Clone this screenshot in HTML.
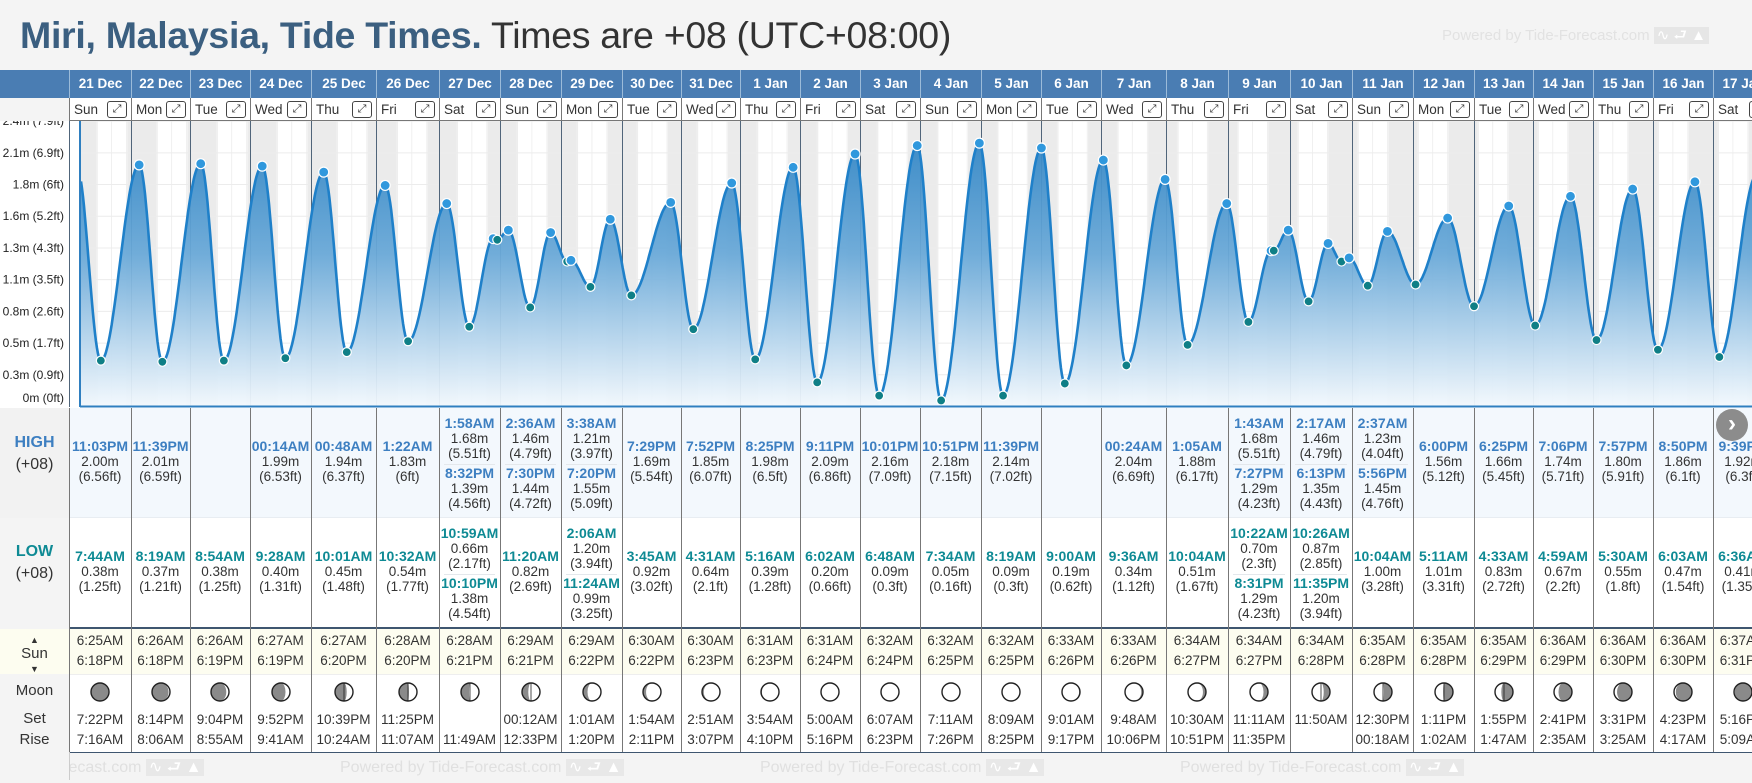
<!DOCTYPE html>
<html><head><meta charset="utf-8">
<style>
*{box-sizing:border-box;margin:0;padding:0}
body{width:1752px;height:780px;overflow:hidden;background:#f4f4f4;font-family:"Liberation Sans",Arial,sans-serif;position:relative;color:#333}
.a{position:absolute}
.c{position:absolute;text-align:center;white-space:nowrap}
.t{font-weight:bold;font-size:14px;line-height:15px}
.v{font-size:13.5px;line-height:15px;color:#333}
</style></head>
<body>
<div class="a" style="left:20px;top:13px;font-size:37.5px;white-space:nowrap;line-height:44px;letter-spacing:-0.3px"><b style="color:#3b5f80">Miri, Malaysia, Tide Times.</b><span style="color:#333"> Times are +08 (UTC+08:00)</span></div>
<div class="a" style="left:1442px;top:25px;font-size:15px;color:#e2e2e2;white-space:nowrap">Powered by Tide-Forecast.com <span style="background:#e6e6e6;color:#fff;padding:0 3px">∿ ⮐ ▲</span></div>
<div id="root"></div>
<svg id="chart" class="a" style="left:0;top:121px" width="1752" height="287"></svg>
<script>
const colEdges=[69,131,190,250,311,376,439,500,561,622,681,740,800,860,920,981,1041,1101,1166,1228,1290,1352,1413,1474,1533,1593,1653,1713,1773];
const dates=['21 Dec','22 Dec','23 Dec','24 Dec','25 Dec','26 Dec','27 Dec','28 Dec','29 Dec','30 Dec','31 Dec','1 Jan','2 Jan','3 Jan','4 Jan','5 Jan','6 Jan','7 Jan','8 Jan','9 Jan','10 Jan','11 Jan','12 Jan','13 Jan','14 Jan','15 Jan','16 Jan','17 Jan'];
const dows=['Sun','Mon','Tue','Wed','Thu','Fri','Sat','Sun','Mon','Tue','Wed','Thu','Fri','Sat','Sun','Mon','Tue','Wed','Thu','Fri','Sat','Sun','Mon','Tue','Wed','Thu','Fri','Sat'];
const highs=[
[['11:03PM','2.00m','(6.56ft)']],[['11:39PM','2.01m','(6.59ft)']],[],[['00:14AM','1.99m','(6.53ft)']],[['00:48AM','1.94m','(6.37ft)']],[['1:22AM','1.83m','(6ft)']],
[['1:58AM','1.68m','(5.51ft)'],['8:32PM','1.39m','(4.56ft)']],[['2:36AM','1.46m','(4.79ft)'],['7:30PM','1.44m','(4.72ft)']],[['3:38AM','1.21m','(3.97ft)'],['7:20PM','1.55m','(5.09ft)']],
[['7:29PM','1.69m','(5.54ft)']],[['7:52PM','1.85m','(6.07ft)']],[['8:25PM','1.98m','(6.5ft)']],[['9:11PM','2.09m','(6.86ft)']],[['10:01PM','2.16m','(7.09ft)']],[['10:51PM','2.18m','(7.15ft)']],[['11:39PM','2.14m','(7.02ft)']],[],
[['00:24AM','2.04m','(6.69ft)']],[['1:05AM','1.88m','(6.17ft)']],[['1:43AM','1.68m','(5.51ft)'],['7:27PM','1.29m','(4.23ft)']],[['2:17AM','1.46m','(4.79ft)'],['6:13PM','1.35m','(4.43ft)']],[['2:37AM','1.23m','(4.04ft)'],['5:56PM','1.45m','(4.76ft)']],
[['6:00PM','1.56m','(5.12ft)']],[['6:25PM','1.66m','(5.45ft)']],[['7:06PM','1.74m','(5.71ft)']],[['7:57PM','1.80m','(5.91ft)']],[['8:50PM','1.86m','(6.1ft)']],[['9:39PM','1.92m','(6.3ft)']]];
const lows=[
[['7:44AM','0.38m','(1.25ft)']],[['8:19AM','0.37m','(1.21ft)']],[['8:54AM','0.38m','(1.25ft)']],[['9:28AM','0.40m','(1.31ft)']],[['10:01AM','0.45m','(1.48ft)']],[['10:32AM','0.54m','(1.77ft)']],
[['10:59AM','0.66m','(2.17ft)'],['10:10PM','1.38m','(4.54ft)']],[['11:20AM','0.82m','(2.69ft)']],[['2:06AM','1.20m','(3.94ft)'],['11:24AM','0.99m','(3.25ft)']],
[['3:45AM','0.92m','(3.02ft)']],[['4:31AM','0.64m','(2.1ft)']],[['5:16AM','0.39m','(1.28ft)']],[['6:02AM','0.20m','(0.66ft)']],[['6:48AM','0.09m','(0.3ft)']],[['7:34AM','0.05m','(0.16ft)']],[['8:19AM','0.09m','(0.3ft)']],[['9:00AM','0.19m','(0.62ft)']],
[['9:36AM','0.34m','(1.12ft)']],[['10:04AM','0.51m','(1.67ft)']],[['10:22AM','0.70m','(2.3ft)'],['8:31PM','1.29m','(4.23ft)']],[['10:26AM','0.87m','(2.85ft)'],['11:35PM','1.20m','(3.94ft)']],[['10:04AM','1.00m','(3.28ft)']],
[['5:11AM','1.01m','(3.31ft)']],[['4:33AM','0.83m','(2.72ft)']],[['4:59AM','0.67m','(2.2ft)']],[['5:30AM','0.55m','(1.8ft)']],[['6:03AM','0.47m','(1.54ft)']],[['6:36AM','0.41m','(1.35ft)']]];
const sunrise=['6:25AM','6:26AM','6:26AM','6:27AM','6:27AM','6:28AM','6:28AM','6:29AM','6:29AM','6:30AM','6:30AM','6:31AM','6:31AM','6:32AM','6:32AM','6:32AM','6:33AM','6:33AM','6:34AM','6:34AM','6:34AM','6:35AM','6:35AM','6:35AM','6:36AM','6:36AM','6:36AM','6:37AM'];
const sunset=['6:18PM','6:18PM','6:19PM','6:19PM','6:20PM','6:20PM','6:21PM','6:21PM','6:22PM','6:22PM','6:23PM','6:23PM','6:24PM','6:24PM','6:25PM','6:25PM','6:26PM','6:26PM','6:27PM','6:27PM','6:28PM','6:28PM','6:28PM','6:29PM','6:29PM','6:30PM','6:30PM','6:31PM'];
const moonSet=['7:22PM','8:14PM','9:04PM','9:52PM','10:39PM','11:25PM','','00:12AM','1:01AM','1:54AM','2:51AM','3:54AM','5:00AM','6:07AM','7:11AM','8:09AM','9:01AM','9:48AM','10:30AM','11:11AM','11:50AM','12:30PM','1:11PM','1:55PM','2:41PM','3:31PM','4:23PM','5:16PM'];
const moonRise=['7:16AM','8:06AM','8:55AM','9:41AM','10:24AM','11:07AM','11:49AM','12:33PM','1:20PM','2:11PM','3:07PM','4:10PM','5:16PM','6:23PM','7:26PM','8:25PM','9:17PM','10:06PM','10:51PM','11:35PM','','00:18AM','1:02AM','1:47AM','2:35AM','3:25AM','4:17AM','5:09AM'];
const moonIllum=[0.03,0.08,0.15,0.25,0.35,0.45,0.55,0.65,0.75,0.83,0.9,0.95,0.98,1,1,0.98,0.95,0.9,0.83,0.75,0.65,0.55,0.45,0.35,0.25,0.17,0.1,0.04];
const moonWaxing=[1,1,1,1,1,1,1,1,1,1,1,1,1,1,1,0,0,0,0,0,0,0,0,0,0,0,0,0];
const tickVals=[0,0.2625,0.525,0.7875,1.05,1.3125,1.575,1.8375,2.1,2.3625];
const tickLabels=['0m (0ft)','0.3m (0.9ft)','0.5m (1.7ft)','0.8m (2.6ft)','1.1m (3.5ft)','1.3m (4.3ft)','1.6m (5.2ft)','1.8m (6ft)','2.1m (6.9ft)','2.4m (7.9ft)'];
const preEvent=[-1.8,1.97,'H'];
const postEvent=[27*24+31.2,0.38,'L'];

const root=document.getElementById('root');
function box(css,name,inter,html,cls){const d=document.createElement('div');d.className=cls||'a';d.style.cssText=css;


if(html!==undefined)d.innerHTML=html;root.appendChild(d);return d;}
box('left:0;top:70px;width:1752px;height:28px;background:#4a7db3','date-header-bar',false);
box('left:0;top:98px;width:1752px;height:23px;background:#fff;border-bottom:1px solid #777','day-row',false);
box('left:0;top:121px;width:1752px;height:287px;background:#fff','chart-area',false);
box('left:0;top:408px;width:1752px;height:110px;background:#f3f8fd','high-row',false);
box('left:0;top:518px;width:1752px;height:109px;background:#fff','low-row',false);
box('left:0;top:517px;width:1752px;height:1px;background:#e8edf2','high-low-divider',false);
box('left:0;top:627px;width:1752px;height:2px;background:#3e5670','sun-divider',false);
box('left:0;top:629px;width:1752px;height:45px;background:#fdfdf0','sun-row',false);
box('left:0;top:674px;width:1752px;height:79px;background:#fff;border-top:1px solid #eee','moon-row',false);
box('left:0;top:752px;width:1752px;height:1px;background:#3e5670','moon-bottom-line',false);
box('left:0;top:408px;width:69px;height:344px;background:#f4f4f4','label-column',false);
box('left:0;top:98px;width:69px;height:23px;background:#f4f4f4','label-column-top',false);
box('left:0;top:408px;width:69px;height:110px;background:#f2f2f2','high-label-bg',false);
box('left:0;top:629px;width:69px;height:45px;background:#fdfdf0','sun-label-bg',false);
box('left:0;top:432px;width:69px;font-size:16px;line-height:22px;text-align:center','high-label',false,'<b style="color:#3d7fc1">HIGH</b><br>(+08)');
box('left:0;top:541px;width:69px;font-size:16px;line-height:22px;text-align:center','low-label',false,'<b style="color:#0e8a94">LOW</b><br>(+08)');
box('left:0;top:632px;width:69px;font-size:15px;line-height:14px;text-align:center','sun-label',false,'<span style="font-size:9px">▲</span><br>Sun<br><span style="font-size:9px">▼</span>');
box('left:0;top:682px;width:69px;font-size:15px;text-align:center','moon-label',false,'Moon');
box('left:0;top:710px;width:69px;font-size:15px;text-align:center','moon-set-label',false,'Set');
box('left:0;top:731px;width:69px;font-size:15px;text-align:center','moon-rise-label',false,'Rise');
for(let i=0;i<4;i++){
box('left:'+(-80+i*420)+'px;top:756px;font-size:16px;color:#e0e0e0;white-space:nowrap','footer-watermark',false,'Powered by Tide-Forecast.com <span style="background:#e8e8e8;color:#fff;padding:0 3px">∿ ⮐ ▲</span>');
}
box('left:0;top:752px;width:69px;height:28px;background:#f4f4f4','footer-label-bg',false);
box('left:69px;top:752px;width:1px;height:28px;background:#ccc','footer-left-line',false);

function moonSvg(f,wax){
const r=9, cx=10, cy=10;
const k=r*Math.abs(1-2*f);
let outer, inner;
if(wax){outer=1; inner=f<0.5?0:1;} else {outer=0; inner=f<0.5?1:0;}
const d='M'+cx+' '+(cy-r)+' A'+r+' '+r+' 0 0 '+outer+' '+cx+' '+(cy+r)+' A'+k.toFixed(2)+' '+r+' 0 0 '+inner+' '+cx+' '+(cy-r)+' Z';
return '<svg width="20" height="20"><circle cx="10" cy="10" r="9" fill="#8a8a8a"/><path d="'+d+'" fill="#fff"/><circle cx="10" cy="10" r="9" fill="none" stroke="#222" stroke-width="1.4"/><line x1="10" y1="1" x2="10" y2="19" stroke="#222" stroke-width="0.8" opacity="'+(Math.abs(f-0.5)<0.2?1:0)+'"/></svg>';
}
function cellEvents(list,color,x,w,top,h,name){
 const n=list.length;
 if(n===1){
  const y=top+h/2-24;
  const el=box('left:'+x+'px;top:'+y+'px;width:'+w+'px','',false,'<div class="t" style="color:'+color+'">'+list[0][0]+'</div><div class="v">'+list[0][1]+'</div><div class="v">'+list[0][2]+'</div>','c');
  
 } else if(n===2){
  for(let j=0;j<2;j++){
   const y=top+8+j*50;
   const el=box('left:'+x+'px;top:'+y+'px;width:'+w+'px','',false,'<div class="t" style="color:'+color+'">'+list[j][0]+'</div><div class="v">'+list[j][1]+'</div><div class="v">'+list[j][2]+'</div>','c');
   
  }
  box('left:'+(x+5)+'px;top:'+(top+h/2+1)+'px;width:'+(w-10)+'px;height:1px;background:#e4e8ec','event-divider',false);
 }
}
for(let i=0;i<dates.length;i++){
 const x=colEdges[i], w=colEdges[i+1]-colEdges[i];
 const hd=box('left:'+x+'px;top:70px;width:'+w+'px;height:28px;line-height:28px;color:#fff;font-weight:bold;font-size:13.5px;border-left:1px solid #9bbbd9','',false,dates[i],'c');
 
 const dr=box('left:'+x+'px;top:98px;width:'+w+'px;height:23px;border-left:1px solid #777;font-size:13.5px;line-height:23px;text-align:left;padding-left:4px','',false,dows[i]+'<span style="position:absolute;right:4px;top:3px;width:20px;height:17px;border:1px solid #444;border-radius:3px;font-size:11px;line-height:15px;text-align:center;background:#fff">⤢</span>','c');
 
 
 const vl=box('left:'+x+'px;top:408px;width:1px;height:344px;background:#777','',false);
 
 cellEvents(highs[i],'#3d7fc1',x,w,408,110,'high-tide-entry');
 cellEvents(lows[i],'#0e8a94',x,w,518,109,'low-tide-entry');
 const s1=box('left:'+x+'px;top:633px;width:'+w+'px;font-size:13.5px','',false,sunrise[i],'c');
 
 const s2=box('left:'+x+'px;top:653px;width:'+w+'px;font-size:13.5px','',false,sunset[i],'c');
 
 const mi=box('left:'+(x+w/2-10)+'px;top:682px;width:20px;height:20px','',false,moonSvg(moonIllum[i],moonWaxing[i]));
 
 const m1=box('left:'+x+'px;top:712px;width:'+w+'px;font-size:13.5px','',false,moonSet[i],'c');
 
 const m2=box('left:'+x+'px;top:732px;width:'+w+'px;font-size:13.5px','',false,moonRise[i],'c');
 
}
const nb=box('left:1716px;top:409px;width:32px;height:32px;border-radius:50%;background:#8c8c8c;color:#fff;font-size:24px;line-height:30px;text-align:center;font-weight:bold','',true,'›');



const NS='http://www.w3.org/2000/svg';
const svg=document.getElementById('chart');
const g=document.createElementNS(NS,'g');g.setAttribute('transform','translate(0,-121)');svg.appendChild(g);
const x0=81.5, dayW=60.05;
function xs(t){return x0+t/24*dayW;}
function ys(h){return 406.5-h*120.8;}
function mk(tag,attrs,name){const e=document.createElementNS(NS,tag);for(const k in attrs)e.setAttribute(k,attrs[k]);


g.appendChild(e);return e;}
function parseT(s){const m=s.match(/(\d+):(\d+)(AM|PM)/);let h=(+m[1])%12;if(m[3]==='PM')h+=12;return h+(+m[2])/60;}
const defs=document.createElementNS(NS,'defs');
defs.innerHTML='<linearGradient id="fg" gradientUnits="userSpaceOnUse" x1="0" y1="130" x2="0" y2="406"><stop offset="0" stop-color="#2f84c4"/><stop offset="0.45" stop-color="#6aa9d8"/><stop offset="1" stop-color="#f2f8fd"/></linearGradient>';
svg.insertBefore(defs,g);
for(let i=-1;i<=29;i++){
 const a=xs(i*24-5.7), b=xs(i*24+6.45);
 const L=Math.max(a,80), R=Math.min(b,1752);
 if(R>L) mk('rect',{x:L,y:121,width:R-L,height:286,fill:'#ebebeb'},'night-band');
}
for(let i=0;i<=29;i++){
 [6,12,18].forEach(hh=>{const xx=xs(i*24+hh);if(xx>80&&xx<1752)mk('line',{x1:xx,x2:xx,y1:121,y2:407,stroke:'#f0f0f0','stroke-width':1},'time-gridline');});
}
tickVals.forEach((v,i)=>{
 mk('line',{x1:80,x2:1752,y1:ys(v),y2:ys(v),stroke:'#ececec','stroke-width':1},'y-gridline');
 const tx=mk('text',{x:64,y:Math.min(ys(v)+4,402),'text-anchor':'end','font-size':12,fill:'#222','font-family':'Liberation Sans, Arial, sans-serif'},'y-tick-label');
 tx.textContent=tickLabels[i];
});
colEdges.forEach(xx=>{if(xx<1752)mk('line',{x1:xx+0.5,x2:xx+0.5,y1:121,y2:407,stroke:'#50657a','stroke-width':1},'day-divider-line');});
let ev=[];
highs.forEach((l,i)=>l.forEach(e=>ev.push([i*24+parseT(e[0]),parseFloat(e[1]),'H'])));
lows.forEach((l,i)=>l.forEach(e=>ev.push([i*24+parseT(e[0]),parseFloat(e[1]),'L'])));
ev.push(preEvent);ev.push(postEvent);
ev.sort((a,b)=>a[0]-b[0]);
let pts=[];
for(let k=0;k<ev.length-1;k++){
 const [t1,h1]=ev[k],[t2,h2]=ev[k+1];
 const n=Math.max(4,Math.ceil((xs(t2)-xs(t1))));
 for(let j=0;j<n;j++){const f=j/n;const t=t1+(t2-t1)*f;const h=h1+(h2-h1)*(1-Math.cos(Math.PI*f))/2;
  const xx=xs(t);if(xx>=80&&xx<=1760)pts.push([xx,ys(h)]);}
}
const line=pts.map((p,i)=>(i?'L':'M')+p[0].toFixed(1)+' '+p[1].toFixed(1)).join(' ');
mk('path',{d:line+' L'+pts[pts.length-1][0].toFixed(1)+' 407 L80 407 Z',fill:'url(#fg)','fill-opacity':0.95},'tide-area');
mk('path',{d:line,fill:'none',stroke:'#1f80c9','stroke-width':2.6},'tide-line');
mk('line',{x1:80,x2:80,y1:121,y2:407,stroke:'#2f7fc0','stroke-width':2},'y-axis-line');
mk('line',{x1:80,x2:1752,y1:406.5,y2:406.5,stroke:'#2f7fc0','stroke-width':2},'x-axis-line');
ev.forEach(e=>{const xx=xs(e[0]);if(xx<80||xx>1752)return;
 mk('circle',{cx:xx,cy:ys(e[1]),r:e[2]==='H'?5:4.5,fill:e[2]==='H'?'#3098dd':'#0f7f86',stroke:'#fff','stroke-width':1.2},e[2]==='H'?'high-tide-point':'low-tide-point');});
</script>
</body></html>
